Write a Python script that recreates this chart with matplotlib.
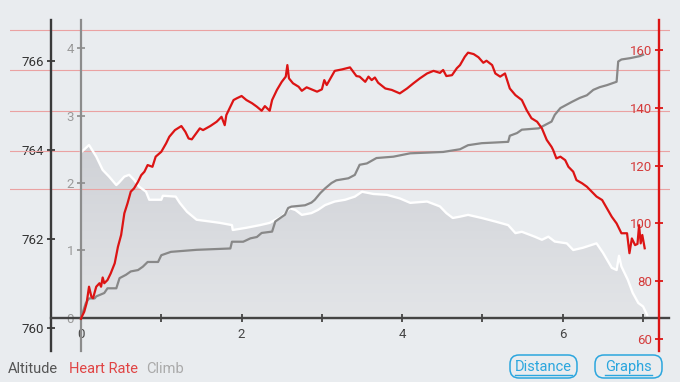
import matplotlib
matplotlib.use('Agg')
import matplotlib.pyplot as plt
import numpy as np
from matplotlib.patches import FancyBboxPatch
from matplotlib.lines import Line2D
from matplotlib.transforms import IdentityTransform, blended_transform_factory
from matplotlib.colors import LinearSegmentedColormap

plt.rcParams['font.family'] = ['Roboto', 'DejaVu Sans']

# ---------------- data ----------------
alt_dist = [0.0, 0.01, 0.10, 0.19, 0.27, 0.35, 0.44, 0.47, 0.54, 0.60,
            0.66, 0.72, 0.81, 0.85, 1.00, 1.02, 1.18, 1.23, 1.32, 1.44,
            1.61, 1.73, 1.88, 1.89, 2.06, 2.23, 2.35, 2.38, 2.50, 2.60,
            2.67, 2.75, 2.87, 2.95, 3.04, 3.16, 3.29, 3.41, 3.50, 3.64,
            3.81, 3.97, 4.10, 4.31, 4.47, 4.55, 4.63, 4.72, 4.82, 4.99,
            5.16, 5.32, 5.41, 5.49, 5.65, 5.74, 5.82, 5.90, 6.05, 6.13,
            6.25, 6.42, 6.50, 6.61, 6.67, 6.70, 6.73, 6.81, 6.87, 6.94,
            7.00, 7.05]
alt_m = [763.96, 763.96, 764.11, 763.85, 763.55, 763.40, 763.21, 763.26, 763.40, 763.44,
         763.33, 763.18, 763.06, 762.88, 762.88, 762.97, 762.95, 762.81, 762.61, 762.43,
         762.39, 762.36, 762.31, 762.20, 762.25, 762.31, 762.36, 762.39, 762.50, 762.69,
         762.65, 762.54, 762.58, 762.65, 762.76, 762.84, 762.88, 762.95, 763.06, 763.01,
         762.99, 762.91, 762.81, 762.84, 762.73, 762.58, 762.47, 762.50, 762.54, 762.47,
         762.39, 762.31, 762.13, 762.16, 762.05, 761.98, 762.05, 761.94, 761.90, 761.75,
         761.80, 761.90, 761.69, 761.35, 761.30, 761.62, 761.38, 761.08, 760.79, 760.56,
         760.48, 760.29]

climb_dist = [0.0, 0.06, 0.10, 0.17, 0.19, 0.29, 0.33, 0.44, 0.48, 0.56,
              0.62, 0.71, 0.77, 0.83, 0.96, 1.00, 1.12, 1.44, 1.86, 1.88,
              2.02, 2.11, 2.19, 2.25, 2.38, 2.42, 2.48, 2.54, 2.58, 2.62,
              2.79, 2.87, 2.91, 2.98, 3.04, 3.12, 3.18, 3.33, 3.41, 3.47,
              3.56, 3.68, 3.89, 4.10, 4.31, 4.51, 4.72, 4.82, 4.99, 5.16,
              5.32, 5.34, 5.43, 5.49, 5.70, 5.86, 5.90, 5.97, 6.11, 6.21,
              6.30, 6.38, 6.46, 6.55, 6.67, 6.69, 6.73, 6.84, 6.96, 7.00]
climb_val = [0.0, 0.22, 0.29, 0.29, 0.32, 0.37, 0.44, 0.44, 0.59, 0.64,
             0.69, 0.71, 0.76, 0.83, 0.83, 0.93, 0.98, 1.01, 1.03, 1.13,
             1.13, 1.18, 1.20, 1.26, 1.28, 1.43, 1.48, 1.53, 1.63, 1.65,
             1.67, 1.71, 1.75, 1.85, 1.92, 2.00, 2.04, 2.07, 2.12, 2.27,
             2.29, 2.37, 2.39, 2.44, 2.45, 2.46, 2.50, 2.56, 2.59, 2.60,
             2.61, 2.70, 2.74, 2.79, 2.81, 2.91, 3.01, 3.11, 3.20, 3.26,
             3.30, 3.38, 3.42, 3.45, 3.50, 3.80, 3.83, 3.85, 3.88, 3.90]

hr_dist = [0.0, 0.01, 0.04, 0.07, 0.10, 0.13, 0.15, 0.19, 0.23, 0.25,
           0.27, 0.29, 0.33, 0.37, 0.42, 0.46, 0.50, 0.54, 0.58, 0.62,
           0.66, 0.71, 0.75, 0.79, 0.83, 0.89, 0.93, 1.00, 1.06, 1.10,
           1.17, 1.25, 1.30, 1.34, 1.38, 1.42, 1.48, 1.52, 1.61, 1.69,
           1.75, 1.79, 1.81, 1.86, 1.90, 1.94, 2.00, 2.06, 2.13, 2.19,
           2.25, 2.29, 2.35, 2.38, 2.44, 2.50, 2.55, 2.57, 2.59, 2.64,
           2.71, 2.75, 2.81, 2.87, 2.94, 3.00, 3.03, 3.06, 3.12, 3.16,
           3.25, 3.35, 3.39, 3.43, 3.47, 3.54, 3.58, 3.62, 3.66, 3.70,
           3.79, 3.87, 3.97, 4.06, 4.14, 4.22, 4.31, 4.39, 4.47, 4.51,
           4.55, 4.62, 4.68, 4.72, 4.78, 4.82, 4.89, 4.95, 5.01, 5.05,
           5.12, 5.16, 5.22, 5.28, 5.34, 5.41, 5.49, 5.55, 5.61, 5.68,
           5.74, 5.80, 5.86, 5.88, 5.92, 5.97, 6.03, 6.07, 6.13, 6.17,
           6.24, 6.30, 6.36, 6.42, 6.49, 6.55, 6.61, 6.67, 6.73, 6.80,
           6.83, 6.86, 6.90, 6.93, 6.95, 6.97, 6.99, 7.02]
hr_bpm = [67.0, 67.7, 69.4, 72.4, 78.1, 74.6, 74.1, 78.1, 79.3, 78.1,
          81.3, 79.3, 80.4, 82.7, 86.2, 91.9, 96.0, 103.5, 107.0, 111.0,
          112.1, 114.4, 116.7, 117.9, 120.2, 119.6, 123.1, 124.8, 127.7, 130.0,
          132.3, 133.7, 131.7, 129.4, 129.1, 130.6, 132.9, 132.3, 133.7, 135.2,
          136.9, 134.0, 137.5, 140.4, 142.7, 143.3, 144.1, 142.7, 141.6, 140.4,
          139.0, 140.6, 139.0, 142.7, 146.2, 149.0, 150.8, 154.8, 150.2, 148.5,
          147.3, 145.9, 147.1, 146.4, 145.6, 146.4, 149.6, 147.9, 150.8, 152.8,
          153.3, 154.0, 152.5, 151.0, 150.8, 149.0, 150.8, 149.6, 150.5, 148.7,
          146.7, 146.2, 145.0, 146.7, 148.5, 150.2, 151.9, 152.8, 152.1, 153.1,
          151.0, 151.3, 153.7, 154.8, 157.7, 159.1, 158.6, 157.5, 155.6, 156.3,
          154.8, 151.9, 150.8, 151.9, 146.7, 144.4, 142.7, 139.2, 136.4, 135.2,
          132.9, 128.9, 126.5, 125.4, 122.5, 123.1, 121.9, 119.6, 117.9, 115.0,
          113.9, 112.7, 111.0, 109.3, 108.1, 105.2, 102.3, 100.0, 96.6, 96.6,
          89.7, 94.8, 92.5, 92.9, 99.4, 93.1, 96.0, 91.4]

hr_zones = [112, 125, 139, 153, 167]

dist_ticks = [0, 1, 2, 3, 4, 5, 6, 7]
dist_labels = ['0', '', '2', '', '4', '', '6', '']
alt_ticks = [760, 762, 764, 766]
climb_ticks = [0, 1, 2, 3, 4]
hr_ticks = [60, 80, 100, 120, 140, 160]
legend_labels = ['Altitude', 'Heart Rate', 'Climb']
button_labels = ['Distance', 'Graphs']

# ---------------- style ----------------
BG = '#e9ecef'
RED = '#dc1414'
ALT_COL = '#3a3a3a'
CLIMB_COL = '#888888'
BLUE = '#2ba6de'
ALT_BASE = 760.18

fig = plt.figure(figsize=(6.8, 3.82), dpi=100, facecolor=BG)
ax_alt = fig.add_axes([10/680, 1-351/382, 660/680, 331/382])
ax_alt.set_facecolor(BG)
ax = ax_alt.twinx()      # climb
ax_hr = ax_alt.twinx()   # heart rate

for a in (ax_alt, ax, ax_hr):
    for s in a.spines.values():
        s.set_visible(False)

# altitude fill with gradient
poly = ax_alt.fill_between(alt_dist, alt_m, ALT_BASE, color='none', lw=0)
grad = np.linspace(0, 1, 256).reshape(-1, 1)
cmap = LinearSegmentedColormap.from_list('g', ['#e3e5e8', '#cfd1d6'])
im = ax_alt.imshow(grad, extent=[0, 7.1, ALT_BASE, 764.2], origin='lower',
                   cmap=cmap, aspect='auto', zorder=1, interpolation='bilinear')
im.set_clip_path(poly.get_paths()[0], transform=ax_alt.transData)
ax_alt.plot(alt_dist, alt_m, color='white', lw=1.7, zorder=3)

# HR zone lines
tr = blended_transform_factory(ax_alt.transAxes, ax_hr.transData)
for v in hr_zones:
    ax_alt.plot([0, 1], [v, v], transform=tr, color='#eaa2a2', lw=0.8, zorder=2)

# climb
ax.plot(climb_dist, climb_val, color=CLIMB_COL, lw=1.6, zorder=3)
# heart rate
ax_hr.plot(hr_dist, hr_bpm, color=RED, lw=1.6, zorder=3)

# limits
ax_alt.set_xlim(-0.884, 7.335)
ax_alt.set_ylim(759.48, 766.92)
ax.set_ylim(-0.489, 4.415)
ax_hr.set_ylim(55.85, 170.4)

# altitude axis
ax_alt.spines['left'].set_visible(True)
ax_alt.spines['left'].set_position(('data', -0.374))
ax_alt.spines['left'].set_color(ALT_COL)
ax_alt.spines['left'].set_linewidth(1.7)
ax_alt.yaxis.tick_left()
ax_alt.set_yticks(alt_ticks)
ax_alt.set_yticklabels([str(t) for t in alt_ticks])
ax_alt.tick_params(axis='y', direction='inout', length=6, width=1.3,
                   color=ALT_COL, labelcolor='#333333', labelsize=9.5, pad=2)
ax_alt.xaxis.set_visible(False)

# climb axis + distance axis
ax.spines['left'].set_visible(True)
ax.spines['left'].set_position(('data', 0))
ax.spines['left'].set_color('#8c8c8c')
ax.spines['left'].set_linewidth(1.6)
ax.yaxis.tick_left()
ax.set_yticks(climb_ticks)
ax.set_yticklabels([str(t) for t in climb_ticks])
ax.tick_params(axis='y', direction='inout', length=6, width=1.2,
               color='#8c8c8c', labelcolor='#9a9a9a', labelsize=9.5, pad=2)
ax.xaxis.set_visible(True)
ax.spines['bottom'].set_visible(True)
ax.spines['bottom'].set_position(('data', 0))
ax.spines['bottom'].set_bounds(-0.374, 7.32)
ax.spines['bottom'].set_color('#444444')
ax.spines['bottom'].set_linewidth(1.7)
ax.xaxis.tick_bottom()
ax.set_xticks(dist_ticks)
ax.set_xticklabels(dist_labels)
ax.tick_params(axis='x', direction='inout', length=6, width=1.3,
               color='#444444', labelcolor='#444444', labelsize=9.5, pad=4)

# HR axis
ax_hr.spines['left'].set_visible(True)
ax_hr.spines['left'].set_position(('data', 7.198))
ax_hr.spines['left'].set_color(RED)
ax_hr.spines['left'].set_linewidth(1.7)
ax_hr.yaxis.tick_left()
ax_hr.set_yticks(hr_ticks)
ax_hr.set_yticklabels([str(t) for t in hr_ticks])
ax_hr.tick_params(axis='y', direction='inout', length=6, width=1.3,
                  color=RED, labelcolor='#d43a3a', labelsize=9.5, pad=2)

ax_alt.set_xlim(-0.884, 7.335)

# legend texts
leg_x = [8, 69, 146]
leg_c = ['#555555', '#e04444', '#aaaaaa']
for lab, x, c in zip(legend_labels, leg_x, leg_c):
    fig.text(x/680, 1-369/382, lab, color=c, fontsize=10.5, va='center', ha='left')

# buttons
btn_x = [510, 595]
btn_texts = []
for lab, x in zip(button_labels, btn_x):
    box = FancyBboxPatch((x/100, 0.04), 0.67, 0.23,
                         boxstyle='round,pad=0,rounding_size=0.09',
                         transform=fig.dpi_scale_trans, facecolor='none',
                         edgecolor=BLUE, lw=1.1)
    fig.add_artist(box)
    t = fig.text((x+33.5)/680, 1-367/382, lab, color=BLUE, fontsize=10.5,
                 ha='center', va='center')
    btn_texts.append(t)

fig.canvas.draw()
for t in btn_texts:
    bb = t.get_window_extent()
    y = bb.y0 - 1
    fig.add_artist(Line2D([bb.x0, bb.x1], [y, y], transform=IdentityTransform(),
                          color=BLUE, lw=1.0))

fig.savefig('out.png', dpi=100, facecolor=BG)
